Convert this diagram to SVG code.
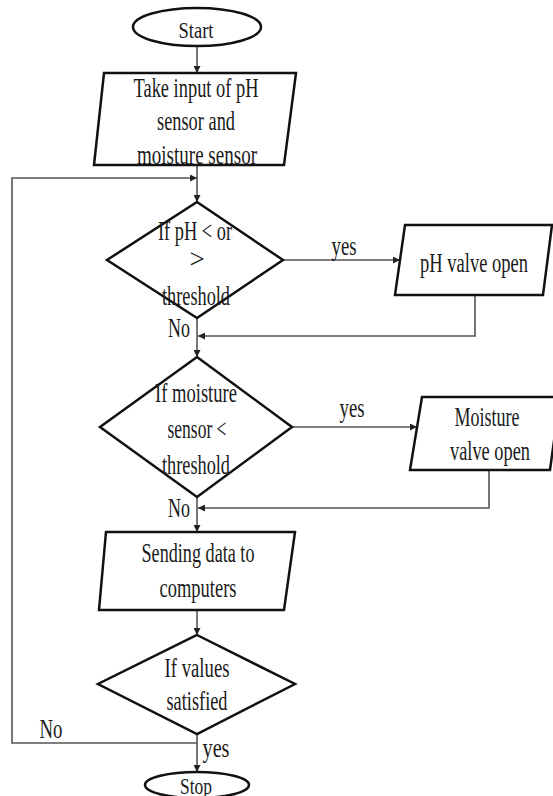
<svg xmlns="http://www.w3.org/2000/svg" width="553" height="796" viewBox="0 0 553 796">
<style>
.shape{fill:#fff;stroke:#111;stroke-width:2.5;stroke-linejoin:miter}
.conn{fill:none;stroke:#555;stroke-width:1.6}
text{font-family:"Liberation Serif","Times New Roman",serif;font-size:27px;fill:#1a1a1a;text-anchor:middle}
.sm{font-size:24px}
</style>
<defs>
<marker id="arr" viewBox="0 0 10 10" refX="10" refY="5" markerWidth="7" markerHeight="7" markerUnits="userSpaceOnUse" orient="auto">
<path d="M0,0 L10,5 L0,10 z" fill="#222"/>
</marker>
</defs>
<rect width="553" height="796" fill="#fff"/>
<g id="connectors">
<line class="conn" x1="197" y1="46" x2="197" y2="73" marker-end="url(#arr)"/>
<line class="conn" x1="197" y1="165" x2="197" y2="202" marker-end="url(#arr)"/>
<polyline class="conn" points="197,743 12,743 12,178 197,178" marker-end="url(#arr)"/>
<line class="conn" x1="283" y1="260" x2="400" y2="260" marker-end="url(#arr)"/>
<polyline class="conn" points="475,295 475,336 198,336" marker-end="url(#arr)"/>
<line class="conn" x1="197" y1="318" x2="197" y2="357" marker-end="url(#arr)"/>
<line class="conn" x1="292" y1="427" x2="417" y2="427" marker-end="url(#arr)"/>
<polyline class="conn" points="489,470 489,508 198,508" marker-end="url(#arr)"/>
<line class="conn" x1="197" y1="497" x2="197" y2="532" marker-end="url(#arr)"/>
<line class="conn" x1="197" y1="610" x2="197" y2="635" marker-end="url(#arr)"/>
<line class="conn" x1="197" y1="734" x2="197" y2="772" marker-end="url(#arr)"/>
</g>
<g id="start">
<ellipse class="shape" cx="197" cy="27" rx="64" ry="19"/>
<text class="sm" x="196" y="38" textLength="35" lengthAdjust="spacingAndGlyphs">Start</text>
</g>
<g id="input">
<polygon class="shape" points="104,73 296,73 284,165 94,165"/>
<text x="196" y="97" textLength="125" lengthAdjust="spacingAndGlyphs">Take input of pH</text>
<text x="196" y="130" textLength="78" lengthAdjust="spacingAndGlyphs">sensor and</text>
<text x="197" y="164" textLength="120" lengthAdjust="spacingAndGlyphs">moisture sensor</text>
</g>
<g id="ph-decision">
<polygon class="shape" points="197,202 283,260 197,318 107,260"/>
<text x="195" y="240" textLength="74" lengthAdjust="spacingAndGlyphs">If pH &lt; or</text>
<text x="197" y="268">&gt;</text>
<text x="196" y="305" textLength="68" lengthAdjust="spacingAndGlyphs">threshold</text>
</g>
<g id="ph-valve">
<polygon class="shape" points="405,225 552,225 543,295 395,295"/>
<text x="474" y="272" textLength="108" lengthAdjust="spacingAndGlyphs">pH valve open</text>
</g>
<g id="moisture-decision">
<polygon class="shape" points="197,357 292,427 197,497 100,427"/>
<text x="196" y="402" textLength="82" lengthAdjust="spacingAndGlyphs">If moisture</text>
<text x="197" y="438" textLength="59" lengthAdjust="spacingAndGlyphs">sensor &lt;</text>
<text x="196" y="474" textLength="68" lengthAdjust="spacingAndGlyphs">threshold</text>
</g>
<g id="moisture-valve">
<polygon class="shape" points="422,397 560,397 550,470 410,470"/>
<text x="487" y="426" textLength="65" lengthAdjust="spacingAndGlyphs">Moisture</text>
<text x="490" y="460" textLength="80" lengthAdjust="spacingAndGlyphs">valve open</text>
</g>
<g id="send">
<polygon class="shape" points="106,532 295,532 284,610 99,610"/>
<text x="198" y="562" textLength="113" lengthAdjust="spacingAndGlyphs">Sending data to</text>
<text x="198" y="597" textLength="77" lengthAdjust="spacingAndGlyphs">computers</text>
</g>
<g id="values-decision">
<polygon class="shape" points="197,635 295,684 197,734 98,684"/>
<text x="197" y="677" textLength="65" lengthAdjust="spacingAndGlyphs">If values</text>
<text x="197" y="710" textLength="61" lengthAdjust="spacingAndGlyphs">satisfied</text>
</g>
<g id="stop">
<ellipse class="shape" cx="197" cy="785" rx="52" ry="13"/>
<text class="sm" x="196" y="794" textLength="32" lengthAdjust="spacingAndGlyphs">Stop</text>
</g>
<g id="labels">
<text x="344" y="255" textLength="25" lengthAdjust="spacingAndGlyphs">yes</text>
<text x="179" y="337" textLength="22" lengthAdjust="spacingAndGlyphs">No</text>
<text x="352" y="417" textLength="25" lengthAdjust="spacingAndGlyphs">yes</text>
<text x="179" y="517" textLength="22" lengthAdjust="spacingAndGlyphs">No</text>
<text x="51" y="738" textLength="23" lengthAdjust="spacingAndGlyphs">No</text>
<text x="216" y="757" textLength="27" lengthAdjust="spacingAndGlyphs">yes</text>
</g>
</svg>
